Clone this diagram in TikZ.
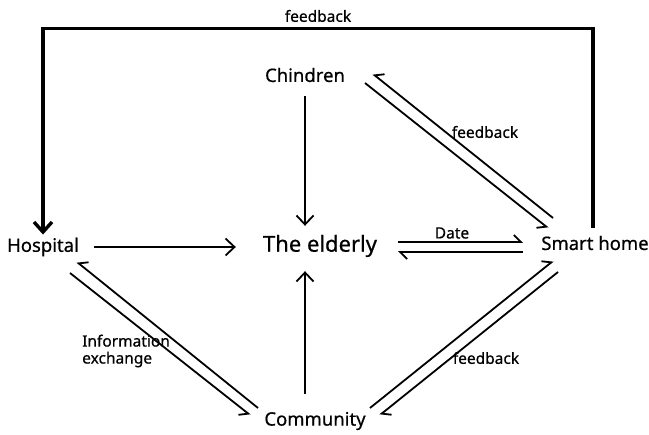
\documentclass[tikz,border=0pt]{standalone}
\usepackage{fontspec}
\setmainfont{Noto Sans}[FakeBold=0.6]
\usetikzlibrary{arrows.meta,calc,positioning}
\tikzset{
    place/.style={inner sep=0pt, font={\fontsize{18.5pt}{20pt}\selectfont}},
    bigPlace/.style={inner sep=0pt, font={\fontsize{22pt}{24pt}\selectfont}},
    lbl/.style={inner sep=0pt, font={\fontsize{15.5pt}{17pt}\selectfont}},
    plainArrow/.style={
        line width=1.8pt,
        -{Straight Barb[length=9pt, width=17pt]}
    },
    loopArrow/.style={
        line width=3.4pt,
        -{Straight Barb[length=10pt, width=18pt]}
    },
    harpL/.style={ % half tip on the left of the line
        line width=1.8pt,
        -{Straight Barb[left, length=7pt, width=14pt]}
    },
    harpR/.style={ % half tip on the right of the line
        line width=1.8pt,
        -{Straight Barb[right, length=7pt, width=14pt]}
    },
}

\begin{document}
\begin{tikzpicture}[x=1pt, y=-1pt]
	\useasboundingbox (0,0) rectangle (649,435);

	% the five actors
	\node[place] (chin) at (305,75) {Chindren};
	\node[bigPlace] (eld) at (320,246) {The elderly};
	\node[place] (hosp) at (43,247) {Hospital};
	\node[place] (smart) at (595,243) {Smart home};
	\node[place] (comm) at (315,421) {Community};

	% one way arrows into the elderly
	\draw[plainArrow, shorten <=14pt, shorten >=9pt] (chin.south) -- (chin.south |- eld.north);
	\draw[plainArrow, shorten <=15pt, shorten >=27pt] (hosp.east) -- (hosp.east -| eld.west);
	\draw[plainArrow, shorten <=18pt, shorten >=14pt] ([xshift=-10pt]comm.north) -- ([xshift=-10pt]comm.north |- eld.south);

	% feedback loop over the top
	\draw[loopArrow, line join=miter, shorten <=8pt, shorten >=3pt]
	    ([xshift=-2pt]smart.north) -- ++(0,-207) -| node[pos=0.25, lbl, above=5pt] (fbTop) {feedback} (hosp.north);

	% chindren <-> smart home
	\draw[harpR] ($(smart)+(-42,-25)$) -- ($(chin)+(68,-1)$);
	\draw[harpR] ($(chin)+(60,8)$) -- ($(smart)+(-47,-15)$);
	\node[lbl] (fbA) at (485,132) {feedback};

	% elderly <-> smart home
	\draw[harpL] ($(eld)+(78,-4)$) -- ($(smart)+(-72,-1)$);
	\draw[harpL] ($(smart)+(-72,9)$) -- ($(eld)+(78,6)$);
	\node[lbl] (date) at (452,233) {Date};

	% hospital <-> community
	\draw[harpR] ($(comm)+(-57,-13)$) -- ($(hosp)+(34,15)$);
	\draw[harpR] ($(hosp)+(27,26)$) -- ($(comm)+(-65,-6)$);
	\node[lbl, align=left, anchor=west] (info) at (82,351) {Information\\exchange};

	% community <-> smart home
	\draw[harpL] ($(comm)+(55,-13)$) -- ($(smart)+(-42,18)$);
	\draw[harpL] ($(smart)+(-37,29)$) -- ($(comm)+(65,-6)$);
	\node[lbl] (fbB) at (486,358) {feedback};
\end{tikzpicture}
\end{document}
